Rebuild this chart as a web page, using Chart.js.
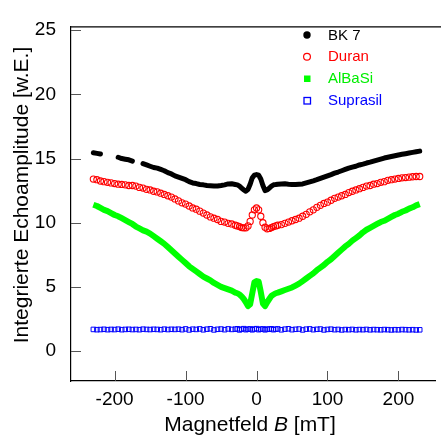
<!DOCTYPE html>
<html><head><meta charset="utf-8">
<script src="https://cdn.jsdelivr.net/npm/chart.js@4/dist/chart.umd.min.js"></script>
<style>html,body{margin:0;padding:0;background:#fff}#wrap{width:441px;height:441px}</style>
</head><body><div id="wrap"><canvas id="c" width="441" height="441"></canvas></div>
<script>
// Magnetic field values (mT)
const fieldB = [
  -230,-225,-220,-215,-210,-205,-200,-195,-190,-185,-180,-175,-170,-165,-160,-155,-150,-145,-140,-135,
  -130,-125,-120,-115,-110,-105,-100,-95,-90,-85,-80,-75,-70,-65,-60,-55,-50,-45,-40,-35,-30,
  -27,-24,-21,-18,-15,-12,-9,-6,-3,0,3,6,9,12,15,18,21,24,27,
  30,35,40,45,50,55,60,65,70,75,80,85,90,95,100,105,110,115,120,125,130,
  135,140,145,150,155,160,165,170,175,180,185,190,195,200,205,210,215,220,225,230
];
// BK 7 (gaps = no data)
const bk7 = [
  15.45,15.4,15.35,null,null,null,null,15.1,15.0,14.95,14.9,14.8,null,null,14.6,14.5,14.4,14.3,14.25,14.15,
  14.05,13.9,13.8,13.65,13.55,13.45,13.35,13.2,13.1,13.05,12.98,12.95,12.9,12.88,12.86,12.86,12.9,12.95,13.02,13.03,12.98,
  12.95,12.85,12.7,12.55,12.45,12.6,13.0,13.5,13.7,13.75,13.7,13.4,12.9,12.5,12.55,12.7,12.85,12.95,12.97,
  13.0,13.02,13.03,13.0,12.98,12.98,13.0,13.02,13.1,13.18,13.26,13.35,13.45,13.55,13.65,13.75,13.86,13.95,14.05,14.15,14.25,
  14.33,14.4,14.5,14.57,14.65,14.72,14.8,14.88,14.96,15.04,15.1,15.16,15.22,15.28,15.33,15.38,15.43,15.48,15.53,15.58
];
// Duran
const duran = [
  13.4,13.35,13.25,13.2,13.15,13.1,13.05,13.0,12.98,12.95,12.9,12.9,12.85,12.75,12.7,12.6,12.55,12.45,12.4,12.3,
  12.2,12.1,12.0,11.85,11.7,11.55,11.45,11.3,11.15,11.05,10.9,10.75,10.6,10.45,10.35,10.25,10.1,10.05,9.95,9.9,9.8,
  9.75,9.7,9.62,9.6,9.6,9.75,10.1,10.6,11.0,11.15,11.0,10.5,10.0,9.65,9.52,9.55,9.62,9.7,9.75,
  9.8,9.85,9.95,10.05,10.15,10.25,10.35,10.5,10.65,10.85,11.0,11.2,11.35,11.5,11.6,11.75,11.9,12.0,12.1,12.2,12.35,
  12.45,12.55,12.65,12.75,12.85,12.9,13.0,13.05,13.15,13.2,13.3,13.35,13.4,13.45,13.5,13.52,13.55,13.58,13.6,13.6
];
// AlBaSi
const albasi = [
  11.4,11.3,11.15,11.0,10.9,10.75,10.6,10.5,10.35,10.2,10.05,9.9,9.7,9.55,9.4,9.3,9.15,8.95,8.75,8.55,
  8.35,8.1,7.85,7.6,7.35,7.1,6.85,6.6,6.4,6.2,6.0,5.8,5.65,5.5,5.3,5.15,5.0,4.9,4.8,4.7,4.55,
  4.5,4.4,4.25,4.05,3.8,3.5,3.65,4.5,5.35,5.45,5.4,4.6,3.7,3.5,3.8,4.05,4.3,4.4,4.5,
  4.55,4.65,4.75,4.85,4.95,5.1,5.25,5.45,5.65,5.85,6.05,6.3,6.5,6.7,6.95,7.15,7.4,7.65,7.9,8.15,8.35,
  8.6,8.8,9.0,9.25,9.45,9.6,9.75,9.9,10.05,10.15,10.3,10.45,10.6,10.7,10.85,10.95,11.1,11.2,11.35,11.45
];
// Suprasil
const suprasil = [
  1.68,1.66,1.67,1.69,1.66,1.68,1.67,1.70,1.66,1.68,1.69,1.67,1.68,1.66,1.70,1.68,1.67,1.69,1.68,1.66,
  1.70,1.67,1.69,1.68,1.70,1.66,1.72,1.64,1.70,1.68,1.72,1.65,1.70,1.73,1.64,1.69,1.71,1.66,1.72,1.68,1.70,
  1.73,1.64,1.70,1.74,1.66,1.70,1.72,1.65,1.71,1.74,1.66,1.70,1.72,1.65,1.71,1.69,1.73,1.66,1.70,
  1.72,1.65,1.70,1.73,1.66,1.69,1.71,1.64,1.70,1.72,1.66,1.69,1.71,1.64,1.68,1.70,1.66,1.68,1.64,1.67,1.66,
  1.68,1.65,1.67,1.66,1.68,1.65,1.67,1.66,1.65,1.67,1.66,1.64,1.66,1.65,1.67,1.66,1.65,1.66,1.64,1.65
];
const seriesNames = ['BK 7', 'Duran', 'AlBaSi', 'Suprasil'];
const xTickValues = [-200, -100, 0, 100, 200];
const yTickValues = [0, 5, 10, 15, 20, 25];

const FONT = "'Liberation Sans', Arial, sans-serif";
const pts = arr => fieldB.map((b, i) => ({x: b, y: arr[i]}));

const frame = {
  id: 'frame',
  afterDraw(chart) {
    const {ctx, chartArea: a, scales: {x, y}} = chart;
    ctx.save();
    ctx.strokeStyle = '#000'; ctx.lineWidth = 1.2;
    ctx.beginPath(); ctx.moveTo(a.left, a.top + 0.5); ctx.lineTo(chart.width, a.top + 0.5); ctx.stroke();
    ctx.strokeStyle = '#555'; ctx.lineWidth = 1;
    xTickValues.forEach(v => {
      const px = Math.round(x.getPixelForValue(v)) + 0.5;
      ctx.beginPath(); ctx.moveTo(px, a.bottom); ctx.lineTo(px, a.bottom - 10); ctx.stroke();
    });
    yTickValues.forEach(v => {
      const py = Math.round(y.getPixelForValue(v)) + 0.5;
      ctx.beginPath(); ctx.moveTo(a.left, py); ctx.lineTo(a.left + 10, py); ctx.stroke();
    });
    // x title with italic B
    ctx.fillStyle = '#000'; ctx.textBaseline = 'middle';
    const p1 = 'Magnetfeld ', p2 = 'B', p3 = ' [mT]';
    ctx.font = '21px ' + FONT; const w1 = ctx.measureText(p1).width, w3 = ctx.measureText(p3).width;
    ctx.font = 'italic 21px ' + FONT; const w2 = ctx.measureText(p2).width;
    let sx = 250 - (w1 + w2 + w3) / 2;
    ctx.font = '21px ' + FONT; ctx.textAlign = 'left'; ctx.fillText(p1, sx, 425);
    ctx.font = 'italic 21px ' + FONT; ctx.fillText(p2, sx + w1, 425);
    ctx.font = '21px ' + FONT; ctx.fillText(p3, sx + w1 + w2, 425);
    // y title
    ctx.save(); ctx.translate(22, 195); ctx.rotate(-Math.PI / 2);
    ctx.textAlign = 'center'; ctx.fillText('Integrierte Echoamplitude [w.E.]', 0, 0); ctx.restore();
    // legend
    const colors = ['#000000', '#ff0000', '#00ee00', '#0000ff'];
    const rows = [35, 56.7, 78.5, 100.5];
    ctx.font = '15px ' + FONT; ctx.textAlign = 'left'; ctx.textBaseline = 'middle';
    rows.forEach((ry, i) => {
      const mx = 307;
      ctx.fillStyle = colors[i]; ctx.strokeStyle = colors[i];
      if (i === 0) { ctx.beginPath(); ctx.arc(mx, ry, 3.7, 0, Math.PI * 2); ctx.fill(); }
      if (i === 1) { ctx.lineWidth = 1.2; ctx.beginPath(); ctx.arc(mx, ry, 3.4, 0, Math.PI * 2); ctx.stroke(); }
      if (i === 2) { ctx.fillStyle = '#00ff00'; ctx.fillRect(mx - 3, ry - 3, 6.5, 6.5); ctx.fillStyle = colors[i]; }
      if (i === 3) { ctx.lineWidth = 1.3; ctx.strokeRect(mx - 3, ry - 3, 6.5, 6.5); }
      ctx.fillText(seriesNames[i], 328, ry + 0.5);
    });
    ctx.restore();
  }
};

new Chart(document.getElementById('c'), {
  type: 'scatter',
  data: {
    datasets: [
      {label: seriesNames[0], data: pts(bk7), showLine: true, spanGaps: false, borderColor: '#000', borderWidth: 5,
       borderCapStyle: 'round', borderJoinStyle: 'round', pointRadius: 0, tension: 0},
      {label: seriesNames[1], data: pts(duran), showLine: false, pointStyle: 'circle', pointRadius: 3.1,
       pointBorderWidth: 1.1, pointBorderColor: '#ff0000', pointBackgroundColor: 'rgba(0,0,0,0)'},
      {label: seriesNames[2], data: pts(albasi), showLine: true, borderColor: '#00ff00', borderWidth: 6,
       borderJoinStyle: 'round', pointRadius: 0, tension: 0},
      {label: seriesNames[3], data: pts(suprasil), showLine: false, pointStyle: 'rect', pointRadius: 3.2,
       pointBorderWidth: 1, pointBorderColor: '#0000ff', pointBackgroundColor: 'rgba(0,0,0,0)'}
    ]
  },
  options: {
    responsive: false, animation: false, devicePixelRatio: 1,
    layout: {padding: {left: 0, right: -3, top: 15, bottom: 0}},
    plugins: {legend: {display: false}, tooltip: {enabled: false}},
    scales: {
      x: {type: 'linear', min: -261.5, max: 252.8,
          grid: {display: false, drawTicks: false}, border: {display: true, color: '#000', width: 1.2},
          afterBuildTicks: s => { s.ticks = xTickValues.map(v => ({value: v})); },
          ticks: {font: {family: FONT, size: 19}, color: '#000', padding: 7, maxRotation: 0, autoSkip: false},
          afterFit: s => { s.height = 60; }},
      y: {type: 'linear', min: -2.34, max: 25.3,
          grid: {display: false, drawTicks: false}, border: {display: true, color: '#000', width: 1.2},
          afterBuildTicks: s => { s.ticks = yTickValues.map(v => ({value: v})); },
          ticks: {font: {family: FONT, size: 19}, color: '#000', padding: 15, autoSkip: false},
          afterFit: s => { s.width = 71; }}
    }
  },
  plugins: [frame]
});
</script></body></html>
